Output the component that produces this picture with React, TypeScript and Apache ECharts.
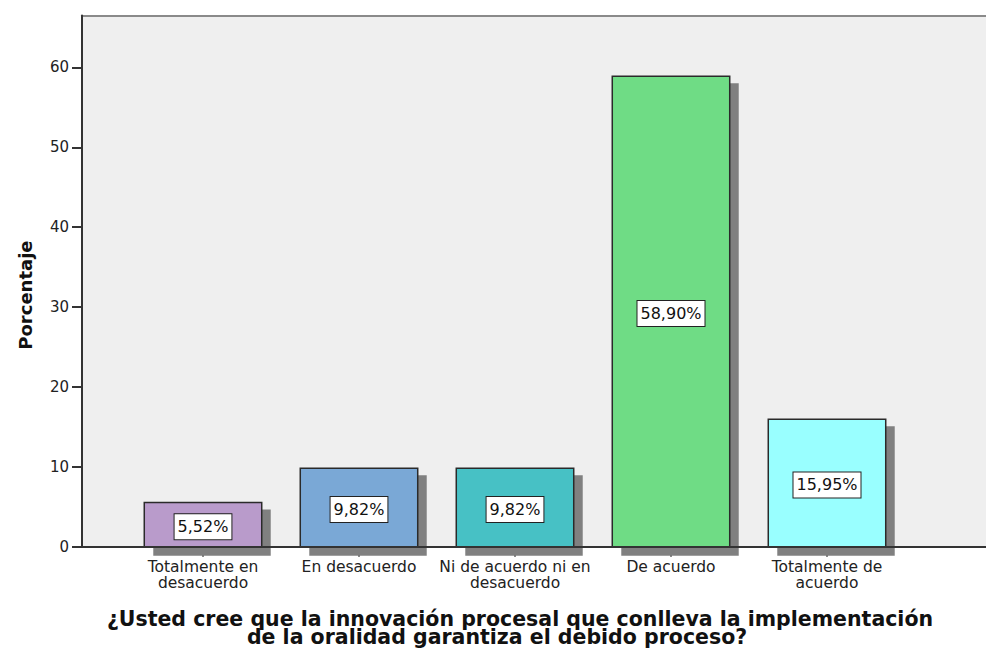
import React, { useEffect, useRef } from 'react';
import * as echarts from 'echarts';

const categories = [
  'Totalmente en\ndesacuerdo',
  'En desacuerdo',
  'Ni de acuerdo ni en\ndesacuerdo',
  'De acuerdo',
  'Totalmente de\nacuerdo',
];
const percentages = [5.52, 9.82, 9.82, 58.9, 15.95];
const barColors = ['#B99BCB', '#7AA8D6', '#47C1C5', '#6FDC85', '#99FFFF'];
const yAxisName = 'Porcentaje';
const xAxisNameLines = [
  '¿Usted cree que la innovación procesal que conlleva la implementación',
  'de la oralidad garantiza el debido proceso?',
];
const yMin = 0;
const yMax = 66.5;
const yInterval = 10;

const fmt = (v: number) => v.toFixed(2).replace('.', ',') + '%';

export default function App() {
  const ref = useRef<HTMLDivElement>(null);
  useEffect(() => {
    if (!ref.current) return;
    const chart = echarts.init(ref.current, undefined, { renderer: 'svg' });
    const font = '"DejaVu Sans", sans-serif';
    const titleFont = 'bold 20.5px "DejaVu Sans", sans-serif';
    chart.setOption({
      animation: false,
      backgroundColor: '#ffffff',
      grid: [
        { left: 82, right: 0, top: 15.5, bottom: 102.3, show: true, backgroundColor: '#EFEFEF', borderWidth: 0, outerBoundsMode: 'none', containLabel: false },
        { left: 125, right: 81, top: 15.5, bottom: 102.3, outerBoundsMode: 'none', containLabel: false },
      ],
      graphic: [
        {
          type: 'text',
          x: 520,
          y: 618.5,
          silent: true,
          style: { text: xAxisNameLines[0], font: titleFont, fill: '#111', align: 'center', verticalAlign: 'middle' },
        },
        {
          type: 'text',
          x: 497,
          y: 637,
          silent: true,
          style: { text: xAxisNameLines[1], font: titleFont, fill: '#111', align: 'center', verticalAlign: 'middle' },
        },
      ],
      xAxis: [
        { type: 'value', gridIndex: 0, min: 0, max: 1, z: 5, axisLine: { show: true, onZero: false, lineStyle: { color: '#333', width: 2 } }, axisTick: { show: false }, axisLabel: { show: false }, splitLine: { show: false } },
        { type: 'value', gridIndex: 0, position: 'top', min: 0, max: 1, axisLine: { show: true, onZero: false, lineStyle: { color: '#8A8A8A', width: 2 } }, axisTick: { show: false }, axisLabel: { show: false }, splitLine: { show: false } },
        {
          type: 'category',
          gridIndex: 1,
          data: categories,
          axisLine: { show: false },
          axisTick: { show: true, alignWithLabel: true, length: 10, lineStyle: { color: '#333', width: 1.5 } },
          axisLabel: { color: '#222', fontFamily: font, fontSize: 15.5, lineHeight: 15.5, margin: 13, interval: 0 },
        },
      ],
      yAxis: [
        {
          type: 'value',
          gridIndex: 0,
          min: yMin,
          max: yMax,
          interval: yInterval,
          z: 5,
          axisLine: { show: true, lineStyle: { color: '#333', width: 2 } },
          axisTick: { show: true, length: 10, lineStyle: { color: '#333', width: 2 } },
          axisLabel: { color: '#222', fontFamily: font, fontSize: 15, margin: 13, showMaxLabel: false },
          splitLine: { show: false },
          name: yAxisName,
          nameLocation: 'middle',
          nameGap: 48,
          nameTextStyle: { color: '#111', fontFamily: font, fontWeight: 'bold', fontSize: 18, padding: [0, 28, 0, 0] },
        },
        { type: 'value', gridIndex: 1, min: yMin, max: yMax, interval: yInterval, show: false, splitLine: { show: false } },
      ],
      series: [
        {
          type: 'custom',
          xAxisIndex: 2,
          yAxisIndex: 1,
          data: percentages.map((v, i) => [i, v]),
          encode: { x: 0, y: 1 },
          renderItem: (params: any, api: any) => {
            const idx = params.dataIndex;
            const v = api.value(1);
            const top = api.coord([api.value(0), v]);
            const base = api.coord([api.value(0), 0]);
            const band = api.size([1, 0])[0];
            const w = band * 0.753;
            const h = base[1] - top[1];
            const x0 = top[0] - w / 2;
            return {
              type: 'group',
              children: [
                { type: 'rect', shape: { x: x0 + 9, y: top[1] + 7, width: w, height: h + 2 }, style: { fill: '#808080' } },
                { type: 'rect', shape: { x: x0, y: top[1], width: w, height: h }, style: { fill: barColors[idx], stroke: '#2a2a2a', lineWidth: 1.5 } },
                {
                  type: 'text',
                  x: top[0],
                  y: top[1] + h / 2 + 2,
                  style: {
                    text: fmt(v),
                    fill: '#111',
                    font: '16px "DejaVu Sans", sans-serif',
                    align: 'center',
                    verticalAlign: 'middle',
                    textAlign: 'center',
                    textVerticalAlign: 'middle',
                    backgroundColor: '#ffffff',
                    borderColor: '#222',
                    borderWidth: 1,
                    padding: [5, 3, 4, 3],
                  },
                },
              ],
            };
          },
        },
      ],
    });
    return () => chart.dispose();
  }, []);
  return <div ref={ref} style={{ position: 'fixed', left: 0, top: 0, width: 986, height: 649 }} />;
}
